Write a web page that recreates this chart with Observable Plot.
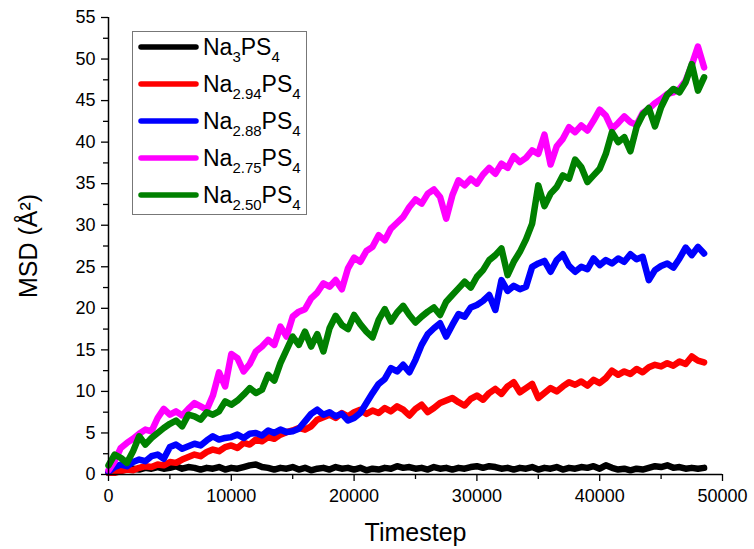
<!DOCTYPE html>
<html><head><meta charset="utf-8">
<script src="https://cdn.jsdelivr.net/npm/d3@7"></script>
<script src="https://cdn.jsdelivr.net/npm/@observablehq/plot@0.6"></script>
<style>
html,body{margin:0;padding:0;background:#fff;}
#wrap{position:relative;width:754px;height:549px;font-family:"Liberation Sans",Arial,sans-serif;}
#legend{position:absolute;left:132px;top:31px;}
</style></head><body><div id="wrap"></div>
<script>
const timesteps = [
0,500,1000,1500,2000,2500,3000,3500,4000,4500,
5000,5500,6000,6500,7000,7500,8000,8500,9000,9500,
10000,10500,11000,11500,12000,12500,13000,13500,14000,14500,
15000,15500,16000,16500,17000,17500,18000,18500,19000,19500,
20000,20500,21000,21500,22000,22500,23000,23500,24000,24500,
25000,25500,26000,26500,27000,27500,28000,28500,29000,29500,
30000,30500,31000,31500,32000,32500,33000,33500,34000,34500,
35000,35500,36000,36500,37000,37500,38000,38500,39000,39500,
40000,40500,41000,41500,42000,42500,43000,43500,44000,44500,
45000,45500,46000,46500,47000,47500,48000,48500];

const msdNa3 = [
0.2,0.4,0.5,0.6,0.7,0.6,0.8,0.7,0.9,0.7,
0.8,1.0,0.7,0.9,0.8,0.6,0.8,0.7,0.9,0.6,
0.8,0.7,0.9,1.1,1.2,0.9,0.8,0.6,0.8,0.7,
0.9,0.6,0.8,0.5,0.7,0.8,0.6,0.9,0.7,0.8,
0.6,0.8,0.5,0.7,0.6,0.8,0.7,1.0,0.8,0.9,
0.7,0.8,0.6,0.9,0.7,0.8,0.6,0.8,0.7,0.9,
1.0,0.8,1.0,0.9,0.7,0.8,0.6,0.8,0.7,0.9,
0.6,0.8,0.7,0.9,0.6,0.8,0.7,0.9,0.8,1.0,
0.7,1.1,0.8,0.6,0.7,0.5,0.7,0.6,0.8,1.0,
0.9,1.1,0.8,0.9,0.7,0.8,0.7,0.8];

const msdNa294 = [
0.2,0.2,0.4,0.6,0.5,0.8,1.0,0.9,1.2,1.1,
1.5,1.4,1.8,2.1,2.4,2.2,2.7,3.0,2.8,3.3,
3.5,3.2,3.8,3.6,4.2,4.0,4.5,4.3,4.8,5.1,
5.3,5.6,5.4,5.8,6.6,6.9,7.2,6.8,7.4,7.0,
7.5,7.8,7.3,7.7,7.4,8.0,7.6,8.2,7.8,7.1,
7.9,8.4,7.5,8.0,8.6,8.9,9.2,8.7,8.3,9.1,
9.5,9.0,9.8,10.3,9.7,10.6,11.1,9.9,10.4,10.9,
9.2,9.8,10.4,10.0,10.6,11.1,10.8,11.2,10.7,11.4,
11.0,11.6,12.5,12.0,12.4,12.1,12.7,12.3,12.9,13.2,
13.0,13.4,13.1,13.6,13.3,14.2,13.7,13.5];

const msdNa288 = [
0.3,0.9,1.2,1.0,1.5,1.8,1.6,2.2,2.4,1.9,
3.3,3.6,3.1,3.4,3.7,3.5,4.1,4.6,4.2,4.4,
4.5,4.8,4.4,4.9,5.0,4.7,5.3,5.0,5.4,5.1,
5.2,5.5,6.4,7.3,7.8,7.2,7.5,7.0,7.3,6.5,
6.8,7.4,8.6,9.8,10.9,11.5,12.8,12.4,13.2,12.3,
13.8,15.6,16.9,17.6,18.2,16.6,18.0,19.3,19.0,20.1,
20.4,20.9,21.6,19.8,23.4,22.1,22.7,22.3,22.6,25.0,
25.4,25.7,24.4,25.8,26.5,25.1,24.4,25.0,24.7,26.0,
25.2,25.8,25.4,26.0,25.6,26.5,25.9,26.2,23.4,24.6,
25.1,25.4,24.9,26.0,27.3,26.4,27.4,26.6];

const msdNa275 = [
0.5,1.6,3.2,3.8,4.3,4.9,5.4,5.2,6.8,7.9,
7.2,7.6,7.1,7.9,8.6,8.2,7.8,9.5,12.3,10.6,
14.5,14.0,12.4,13.3,14.8,15.4,16.2,15.6,17.8,16.6,
19.0,19.6,19.9,21.2,21.9,23.0,22.6,23.4,22.3,24.8,
26.1,25.6,26.9,27.4,28.8,28.2,29.6,30.3,31.0,32.2,
33.1,32.6,33.8,34.3,33.4,30.8,33.6,35.4,34.8,35.6,
35.0,36.1,36.9,36.2,37.4,36.9,38.3,37.6,38.1,39.0,
38.6,40.9,37.3,39.5,40.4,41.8,41.2,42.0,41.4,42.6,
43.9,43.2,41.6,42.3,43.1,42.4,42.1,43.5,44.0,44.7,
45.2,45.8,46.0,46.4,47.4,49.3,51.5,49.0];

const msdNa250 = [
1.1,2.4,2.0,1.4,2.8,4.6,3.6,4.4,5.0,5.6,
6.1,6.5,5.8,7.2,7.0,6.6,7.5,7.2,7.6,8.8,
8.4,8.9,9.6,10.4,9.8,10.2,12.0,11.3,13.4,15.0,
16.6,15.6,17.2,15.4,16.9,14.8,17.6,19.1,18.0,17.5,
19.2,18.1,17.2,16.5,18.6,19.9,18.4,19.5,20.3,19.2,
18.3,19.0,19.6,20.1,19.2,20.8,21.6,22.4,23.2,22.5,
23.8,24.6,25.8,26.4,27.2,24.0,25.6,26.8,28.3,30.2,
34.8,32.3,33.8,34.6,36.0,35.6,37.9,37.0,35.2,36.0,
36.8,38.6,41.2,40.0,40.6,38.9,41.8,43.3,44.1,41.9,
44.2,45.7,46.4,46.0,47.2,49.4,46.2,47.8];

const seriesKeys = ["Na3PS4","Na2.94PS4","Na2.88PS4","Na2.75PS4","Na2.50PS4"];
const seriesSubs = ["3","2.94","2.88","2.75","2.50"];
const seriesColors = ["#000000","#ff0000","#0000ff","#ff00ff","#008000"];
const seriesValues = [msdNa3, msdNa294, msdNa288, msdNa275, msdNa250];

const xMajor = [0,10000,20000,30000,40000,50000];
const xMinor = [5000,15000,25000,35000,45000];
const yMajor = [0,5,10,15,20,25,30,35,40,45,50,55];
const yMinor = [2.5,7.5,12.5,17.5,22.5,27.5,32.5,37.5,42.5,47.5,52.5];

const rows = [];
seriesValues.forEach((vals, si) => vals.forEach((v, i) => rows.push({series: seriesKeys[si], t: timesteps[i], msd: v})));

const font = "'Liberation Sans', Arial, sans-serif";
const chart = Plot.plot({
  width: 754, height: 549,
  marginTop: 17, marginRight: 32, marginBottom: 75, marginLeft: 108,
  style: {fontFamily: font, fontSize: "18px", color: "#000", background: "#fff", overflow: "visible"},
  x: {domain: [0, 50000]},
  y: {domain: [0, 55]},
  color: {domain: seriesKeys, range: seriesColors},
  marks: [
    Plot.line(rows, {x: "t", y: "msd", z: "series", stroke: "series", strokeWidth: 6.5, strokeLinejoin: "round", strokeLinecap: "round"}),
    Plot.axisX({ticks: xMinor, tickSize: 5, text: null, label: null, strokeWidth: 1.3}),
    Plot.axisX({ticks: xMajor, tickSize: 7, tickPadding: 8, tickFormat: d => String(d), label: null, fontSize: 18, strokeWidth: 1.3}),
    Plot.axisX({ticks: [], label: "Timestep", labelAnchor: "center", labelArrow: "none", labelOffset: 66, fontSize: 25}),
    Plot.axisY({ticks: yMinor, tickSize: 5, text: null, label: null, strokeWidth: 1.3}),
    Plot.axisY({ticks: yMajor, tickSize: 7, tickPadding: 6, tickFormat: d => String(d), label: null, fontSize: 18, strokeWidth: 1.3}),
    Plot.axisY({ticks: [], label: "MSD (Å²)", labelAnchor: "center", labelArrow: "none", labelOffset: 89, fontSize: 25}),
    Plot.ruleY([0], {stroke: "#000", strokeWidth: 1.5}),
    Plot.ruleX([0], {stroke: "#000", strokeWidth: 1.5})
  ]
});
const wrap = document.getElementById("wrap");
wrap.appendChild(chart);

// legend
const lw = 175, lh = 184;
const leg = d3.select(wrap).append("svg").attr("id", "legend").attr("width", lw).attr("height", lh)
  .style("font-family", font);
leg.append("rect").attr("x", 0.5).attr("y", 0.5).attr("width", lw - 1).attr("height", lh - 1)
  .attr("fill", "#fff").attr("stroke", "#777").attr("stroke-width", 1);
seriesKeys.forEach((k, i) => {
  const cy = 16 + i * 37;
  leg.append("line").attr("x1", 9).attr("x2", 64).attr("y1", cy).attr("y2", cy)
    .attr("stroke", seriesColors[i]).attr("stroke-width", 5.5).attr("stroke-linecap", "round");
  const t = leg.append("text").attr("x", 71).attr("y", cy + 8).attr("font-size", 23).attr("fill", "#000");
  t.append("tspan").text("Na");
  t.append("tspan").attr("font-size", 15).attr("dy", 7).text(seriesSubs[i]);
  t.append("tspan").attr("dy", -7).text("PS");
  t.append("tspan").attr("font-size", 15).attr("dy", 7).text("4");
});
</script>
</body></html>
